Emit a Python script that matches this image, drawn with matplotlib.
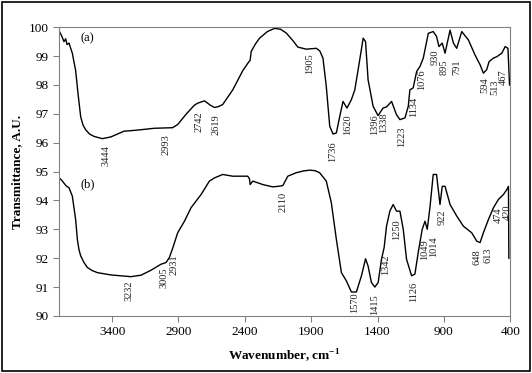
import matplotlib
matplotlib.use("Agg")
import matplotlib.pyplot as plt
from matplotlib.patches import Rectangle

plt.rcParams['font.family'] = ['Liberation Serif', 'DejaVu Serif']

# spectrum (a)
a_wn = [3800, 3780, 3763, 3750, 3740, 3725, 3700, 3675, 3657, 3637, 3620, 3600, 3570,
        3537, 3474, 3410, 3360, 3310, 3250, 3183, 3082, 2944, 2906, 2840, 2780, 2755,
        2704, 2660, 2629, 2600, 2567, 2491, 2415, 2370, 2360, 2352, 2320, 2289, 2230,
        2176, 2130, 2088, 2040, 2000, 1936, 1861, 1835, 1811, 1786, 1760, 1735, 1710,
        1685, 1660, 1630, 1597, 1571, 1534, 1508, 1490, 1471, 1433, 1396, 1358, 1332,
        1294, 1257, 1231, 1193, 1168, 1156, 1131, 1105, 1080, 1055, 1017, 980, 955,
        937, 912, 891, 853, 828, 803, 765, 715, 665, 627, 602, 577, 559, 526, 501,
        463, 438, 417, 413, 405]
a_t = [99.88, 99.7, 99.5, 99.6, 99.4, 99.45, 99.1, 98.5, 97.7, 96.9, 96.62, 96.45, 96.3,
       96.22, 96.14, 96.2, 96.3, 96.4, 96.42, 96.45, 96.5, 96.52, 96.63, 97.0, 97.3, 97.37,
       97.45, 97.3, 97.22, 97.25, 97.32, 97.83, 98.5, 98.8, 98.85, 99.16, 99.42, 99.62, 99.85,
       99.96, 99.93, 99.8, 99.55, 99.31, 99.24, 99.27, 99.18, 98.93, 97.95, 96.57, 96.3, 96.34,
       96.9, 97.43, 97.2, 97.49, 97.83, 98.87, 99.62, 99.5, 98.18, 97.26, 96.94, 97.2, 97.24,
       97.43, 96.97, 96.8, 96.86, 97.26, 97.83, 97.9, 98.47, 98.64, 98.93, 99.79, 99.85, 99.68,
       99.33, 99.45, 99.1, 99.9, 99.45, 99.27, 99.85, 99.56, 99.04, 98.7, 98.41, 98.53, 98.81,
       98.93, 98.98, 99.1, 99.33, 99.27, 98.87, 98.0]

# spectrum (b)
b_wn = [3800, 3780, 3763, 3745, 3725, 3700, 3675, 3662, 3650, 3637, 3612, 3587, 3550,
        3511, 3410, 3259, 3183, 3108, 3032, 2994, 2969, 2944, 2906, 2855, 2805, 2729,
        2667, 2629, 2567, 2491, 2403, 2378, 2365, 2360, 2340, 2264, 2189, 2130, 2113,
        2076, 2013, 1960, 1911, 1870, 1836, 1786, 1748, 1710, 1672, 1634, 1597, 1559,
        1521, 1490, 1471, 1446, 1420, 1395, 1370, 1350, 1332, 1307, 1282, 1257, 1231,
        1206, 1181, 1143, 1118, 1093, 1063, 1042, 1025, 1005, 980, 955, 929, 912, 891,
        853, 803, 753, 690, 652, 627, 602, 564, 526, 488, 450, 425, 413, 410]
b_t = [94.78, 94.7, 94.6, 94.5, 94.44, 94.15, 93.34, 92.65, 92.3, 92.08, 91.85, 91.68, 91.57,
       91.5, 91.42, 91.36, 91.41, 91.58, 91.79, 91.85, 92.02, 92.34, 92.88, 93.28, 93.75, 94.21,
       94.67, 94.78, 94.9, 94.84, 94.84, 94.84, 94.75, 94.55, 94.67, 94.55, 94.47, 94.5, 94.52,
       94.84, 94.96, 95.02, 95.05, 95.03, 94.96, 94.67, 93.92, 92.65, 91.5, 91.21, 90.83, 90.83,
       91.39, 91.98, 91.73, 91.16, 91.0, 91.16, 91.96, 92.37, 93.11, 93.63, 93.86, 93.63, 93.63,
       93.0, 91.96, 91.39, 91.45, 92.2, 93.0, 93.28, 93.0, 93.75, 94.9, 94.9, 93.86, 94.49, 94.49,
       93.86, 93.46, 93.11, 92.88, 92.59, 92.54, 92.88, 93.34, 93.75, 94.04, 94.21, 94.38, 94.49,
       92.0]

# peak labels: text, x position, top of text
a_labels = ['3444', '2993', '2742', '2619', '1905', '1736', '1620', '1396', '1338',
            '1223', '1134', '1076', '930', '895', '791', '594', '513', '467']
a_lab_x = [3448, 2994, 2743, 2616, 1911, 1735, 1622, 1418, 1352,
           1218, 1131, 1067, 967, 896, 803, 589, 513, 455]
a_lab_y = [95.93, 96.28, 97.07, 96.97, 99.11, 96.05, 96.97, 96.97, 97.04,
           96.57, 97.6, 98.53, 99.22, 98.87, 98.87, 98.28, 98.18, 98.53]

b_labels = ['3232', '3005', '2931', '2110', '1570', '1415', '1342', '1250', '1126',
            '1049', '1014', '922', '648', '613', '474', '420']
b_lab_x = [3272, 3007, 2932, 2113, 1571, 1420, 1340, 1252, 1131,
           1048, 980, 912, 652, 568, 488, 425]
b_lab_y = [91.21, 91.68, 92.13, 94.28, 90.8, 90.75, 92.13, 93.34, 91.17,
           92.65, 92.75, 93.69, 92.3, 92.38, 93.76, 93.86]

fig = plt.figure(figsize=(5.32, 3.73), dpi=100)
ax = fig.add_axes([0.111, 0.153, 0.848, 0.774])

ax.plot(a_wn, a_t, color='black', lw=1.0)
ax.plot(b_wn, b_t, color='black', lw=1.0)

for txt, x, y in zip(a_labels, a_lab_x, a_lab_y):
    ax.text(x, y, txt, rotation=90, ha='center', va='top', fontsize=7.5, color='#222222')
for txt, x, y in zip(b_labels, b_lab_x, b_lab_y):
    ax.text(x, y, txt, rotation=90, ha='center', va='top', fontsize=7.5, color='#222222')

ax.text(3642, 99.6, '(a)', fontsize=9, va='center')
ax.text(3642, 94.55, '(b)', fontsize=9, va='center')

ax.set_xlim(3800, 400)
ax.set_ylim(90, 100)
ax.set_xticks([3400, 2900, 2400, 1900, 1400, 900, 400])
ax.set_yticks(range(90, 101))
ax.tick_params(labelsize=9.5, color='#808080', length=4, width=0.8)
for s in ax.spines.values():
    s.set_color('#808080')
    s.set_linewidth(0.8)

ax.set_xlabel('Wavenumber, cm$^{\\mathregular{-1}}$', fontsize=9.5, fontweight='bold', labelpad=6)
ax.set_ylabel('Transmittance, A.U.', fontsize=9.5, fontweight='bold', labelpad=4)

fig.patches.append(Rectangle((0.004, 0.006), 0.992, 0.988, transform=fig.transFigure,
                             fill=False, edgecolor='black', linewidth=1.2))

fig.savefig('out.png', dpi=100)
